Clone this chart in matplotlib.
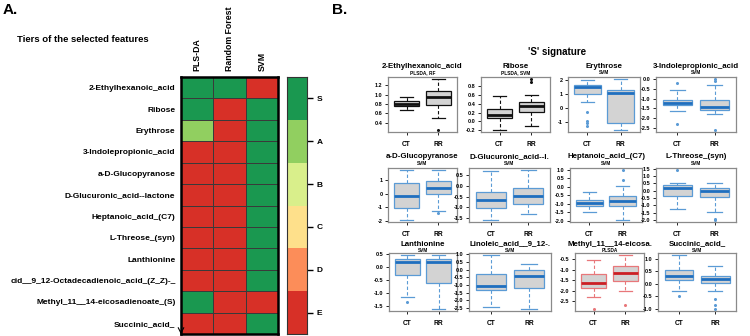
import matplotlib
matplotlib.use("Agg")
import matplotlib.pyplot as plt
from matplotlib.colors import ListedColormap, BoundaryNorm
from matplotlib.ticker import MultipleLocator, FormatStrFormatter
import numpy as np

plt.rcParams['font.family'] = ['Liberation Sans', 'DejaVu Sans']
plt.rcParams['axes.unicode_minus'] = False

# ---------------- data ----------------
features = ["2-Ethylhexanoic_acid", "Ribose", "Erythrose", "3-Indolepropionic_acid",
            "a-D-Glucopyranose", "D-Glucuronic_acid--lactone", "Heptanoic_acid_(C7)",
            "L-Threose_(syn)", "Lanthionine", "cid__9_12-Octadecadienoic_acid_(Z_Z)-_",
            "Methyl_11__14-eicosadienoate_(S)", "Succinic_acid_"]
methods = ["PLS-DA", "Random Forest", "SVM"]
tier_names = ["S", "A", "B", "C", "D", "E"]
tier_plsda = ["S", "S", "A", "E", "E", "E", "E", "E", "E", "E", "S", "E"]
tier_rf    = ["S", "E", "E", "E", "E", "E", "E", "E", "E", "E", "E", "E"]
tier_svm   = ["E", "S", "S", "S", "S", "S", "S", "S", "S", "S", "E", "S"]

box_titles = ["2-Ethylhexanoic_acid", "Ribose", "Erythrose", "3-Indolepropionic_acid",
              "a-D-Glucopyranose", "D-Glucuronic_acid--l.", "Heptanoic_acid_(C7)", "L-Threose_(syn)",
              "Lanthionine", "Linoleic_acid__9_12-.", "Methyl_11__14-eicosa.", "Succinic_acid_"]
box_methods = ["PLSDA, RF", "PLSDA, SVM", "SVM", "SVM",
               "SVM", "SVM", "SVM", "SVM",
               "SVM", "SVM", "PLSDA", "SVM"]
groups = ["CT", "RR"]
# [whisker low, Q1, median, Q3, whisker high]
ct_stats = [[0.67, 0.76, 0.81, 0.87, 0.95],
            [-0.19, 0.08, 0.15, 0.27, 0.56],
            [0.42, 1.00, 1.45, 1.60, 2.00],
            [-1.65, -1.32, -1.20, -1.05, -0.55],
            [-1.95, -1.05, -0.20, 0.78, 1.75],
            [-1.60, -1.05, -0.65, -0.30, 0.68],
            [-1.50, -1.15, -0.95, -0.75, -0.30],
            [-1.25, -0.40, 0.20, 0.35, 0.55],
            [-1.13, -0.30, 0.20, 0.30, 0.45],
            [-2.40, -1.35, -1.05, -0.25, 0.95],
            [-2.30, -1.85, -1.60, -1.20, -0.55],
            [-0.30, 0.15, 0.32, 0.55, 1.15]]
rr_stats = [[0.50, 0.78, 0.95, 1.08, 1.33],
            [-0.10, 0.22, 0.34, 0.43, 0.60],
            [-1.60, -1.10, 1.05, 1.30, 2.05],
            [-1.78, -1.60, -1.42, -1.05, -0.30],
            [-1.25, 0.00, 0.45, 0.92, 1.75],
            [-1.30, -0.85, -0.47, -0.10, 0.75],
            [-1.95, -1.10, -0.85, -0.55, 0.05],
            [-1.45, -0.45, -0.05, 0.20, 0.50],
            [-1.60, -0.62, 0.20, 0.30, 0.45],
            [-2.55, -1.20, -0.40, 0.00, 0.40],
            [-2.00, -1.55, -1.15, -0.80, -0.30],
            [-0.30, 0.05, 0.18, 0.30, 0.72]]
ct_outliers = [[], [], [-0.30, -0.95, -1.10, -1.30], [-0.20, -2.30],
               [], [], [], [1.40],
               [-1.35], [], [-2.85], [-0.50]]
rr_outliers = [[0.25], [0.88, 0.95], [], [0.00, -0.10, -2.60],
               [-1.40], [], [0.40, 1.00], [-1.90, -2.00],
               [], [], [-2.65], [-0.60, -0.85, -1.00]]
tick_steps = [0.2, 0.2, 1, 0.5, 1, 0.5, 0.5, 0.5, 0.5, 0.5, 0.5, 0.5]

# ---------------- styles ----------------
tier_colors = ["#1a9850", "#91cf60", "#d9ef8b", "#fee08b", "#fc8d59", "#d73027"]
themes = {"black": ("#111111", "#111111"),
          "blue": ("#5b9bd5", "#1f6fbf"),
          "red": ("#e8777a", "#cc1f24")}
method_theme = {"PLSDA, RF": "black", "PLSDA, SVM": "black", "SVM": "blue", "PLSDA": "red"}

W, H = 750, 336
fig = plt.figure(figsize=(7.5, 3.36), dpi=100)
fig.patch.set_facecolor("white")


def add_ax(x0, y0, x1, y1):
    return fig.add_axes([x0 / W, 1 - y1 / H, (x1 - x0) / W, (y1 - y0) / H])


def ftext(x, y, s, **kw):
    fig.text(x / W, 1 - y / H, s, **kw)


# ---------------- Panel A ----------------
ftext(3, 10, "A.", fontsize=11, fontweight="bold", va="center", ha="left")
ftext(17, 40, "Tiers of the selected features", fontsize=6.8, fontweight="bold", va="center", ha="left")

M = np.array([[tier_names.index(t) for t in col] for col in (tier_plsda, tier_rf, tier_svm)]).T
cmap = ListedColormap(tier_colors)
norm = BoundaryNorm(np.arange(-0.5, len(tier_names) + 0.5, 1), cmap.N)

axh = add_ax(181, 77, 278, 334)
axh.pcolormesh(M, cmap=cmap, norm=norm, edgecolors="#3a3a3a", linewidth=0.6)
axh.set_xlim(0, len(methods))
axh.set_ylim(len(features), 0)
axh.set_yticks(np.arange(len(features)) + 0.5)
axh.set_yticklabels(features, fontsize=6, fontweight="bold")
axh.set_xticks(np.arange(len(methods)) + 0.5)
axh.set_xticklabels(methods, rotation=90, fontsize=6.3, fontweight="bold")
axh.xaxis.tick_top()
axh.tick_params(length=0, pad=4)
for s in axh.spines.values():
    s.set_linewidth(1.8)
axh.annotate("", xy=(0, len(features) + 0.15), xytext=(0, len(features) - 0.3),
             arrowprops=dict(arrowstyle="->", lw=0.8, color="black"), annotation_clip=False)

axc = add_ax(287, 77, 307, 334)
axc.pcolormesh(np.arange(len(tier_names)).reshape(-1, 1), cmap=cmap, norm=norm)
axc.set_ylim(len(tier_names), 0)
axc.set_xticks([])
axc.yaxis.tick_right()
axc.set_yticks(np.arange(len(tier_names)) + 0.5)
axc.set_yticklabels(tier_names, fontsize=6, fontweight="bold")
axc.tick_params(axis="y", length=4, width=1, pad=3)
for s in axc.spines.values():
    s.set_linewidth(0.8)
    s.set_color("#333333")

# ---------------- Panel B ----------------
ftext(332, 10, "B.", fontsize=11, fontweight="bold", va="center", ha="left")
ftext(557, 52, "'S' signature", fontsize=7, fontweight="bold", va="center", ha="center")

frames = [
    [(388, 77, 457, 132), (481, 77, 550, 132), (568, 77, 640, 132), (656, 77, 736, 132)],
    [(388, 168, 457, 222), (469, 168, 550, 222), (570, 168, 642, 222), (656, 168, 736, 222)],
    [(389, 253, 457, 311), (469, 253, 551, 311), (575, 253, 644, 311), (658, 253, 736, 311)],
]
title_y = [67, 157, 244]
sub_y = [73, 163, 250]

for i in range(len(box_titles)):
    r, c = divmod(i, 4)
    x0, y0, x1, y1 = frames[r][c]
    ax = add_ax(x0, y0, x1, y1)
    edge, med = themes[method_theme[box_methods[i]]]
    stats = []
    for g, st, fl in zip(groups, (ct_stats[i], rr_stats[i]), (ct_outliers[i], rr_outliers[i])):
        stats.append(dict(whislo=st[0], q1=st[1], med=st[2], q3=st[3], whishi=st[4],
                          fliers=fl, label=g))
    ax.bxp(stats, positions=[1, 2], widths=0.8, patch_artist=True, showfliers=True,
           boxprops=dict(facecolor="#d3d3d3", edgecolor=edge, linewidth=0.9),
           medianprops=dict(color=med, linewidth=2.0),
           whiskerprops=dict(color=edge, linewidth=0.8, linestyle=(0, (3, 2))),
           capprops=dict(color=edge, linewidth=0.9),
           capwidths=0.4,
           flierprops=dict(marker="o", markersize=1.2, markerfacecolor=edge,
                           markeredgecolor=edge, linestyle="none"))
    vals = [v for v in ct_stats[i] + rr_stats[i] + ct_outliers[i] + rr_outliers[i]]
    lo, hi = min(vals), max(vals)
    pad = 0.04 * (hi - lo)
    ax.set_ylim(lo - pad, hi + pad)
    ax.set_xlim(0.42, 2.58)
    step = tick_steps[i]
    ax.yaxis.set_major_locator(MultipleLocator(step))
    ax.yaxis.set_major_formatter(FormatStrFormatter("%d" if step >= 1 else "%.1f"))
    ax.set_xticks([1, 2])
    ax.set_xticklabels(groups)
    ax.tick_params(axis="y", labelsize=4, length=2.5, width=0.6, pad=1.5)
    ax.tick_params(axis="x", labelsize=4.8, length=2.5, width=0.6, pad=4)
    for lab in ax.get_xticklabels() + ax.get_yticklabels():
        lab.set_fontweight("bold")
    for s in ax.spines.values():
        s.set_color("#8a8a8a")
        s.set_linewidth(0.9)
    cx = (x0 + x1) / 2
    ftext(cx, title_y[r], box_titles[i], fontsize=5.7, fontweight="bold", ha="center", va="center")
    ftext(cx, sub_y[r], box_methods[i], fontsize=3.4, fontweight="bold", ha="center", va="center")

fig.savefig("out.png", dpi=100, facecolor="white")
